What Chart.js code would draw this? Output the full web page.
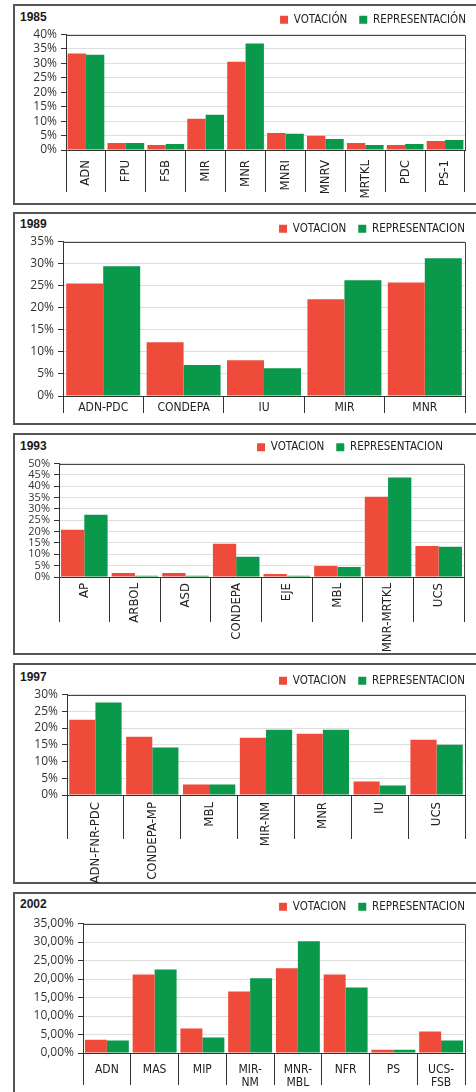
<!DOCTYPE html>
<html>
<head>
<meta charset="utf-8">
<script src="https://cdn.jsdelivr.net/npm/chart.js@4.4.1/dist/chart.umd.min.js"></script>
<style>
html, body { margin: 0; padding: 0; background: #fff; }
#page { position: relative; width: 476px; height: 1092px; overflow: hidden; }
.panel { position: absolute; left: 13px; width: 480px; border: 2px solid #555; box-sizing: border-box; }
.year { position: absolute; left: 20px; height: 14px; line-height: 14px; font: bold 12px "Liberation Sans", Arial, sans-serif; color: #1a1a1a; }
canvas { position: absolute; left: 0; }
</style>
</head>
<body>
<div id="page"></div>
<script>
// datos por eleccion (%)
const cats1985 = ['ADN', 'FPU', 'FSB', 'MIR', 'MNR', 'MNRI', 'MNRV', 'MRTKL', 'PDC', 'PS-1'];
const vot1985 = [33.4, 2.4, 1.7, 10.8, 30.6, 5.9, 4.9, 2.4, 1.7, 3.1];
const rep1985 = [33.0, 2.4, 2.1, 12.2, 36.9, 5.6, 3.8, 1.7, 2.1, 3.5];
const ticks1985 = [0, 5, 10, 15, 20, 25, 30, 35, 40];

const cats1989 = ['ADN-PDC', 'CONDEPA', 'IU', 'MIR', 'MNR'];
const vot1989 = [25.5, 12.2, 8.1, 21.9, 25.7];
const rep1989 = [29.4, 7.0, 6.3, 26.2, 31.2];
const ticks1989 = [0, 5, 10, 15, 20, 25, 30, 35];

const cats1993 = ['AP', 'ARBOL', 'ASD', 'CONDEPA', 'EJE', 'MBL', 'MNR-MRTKL', 'UCS'];
const vot1993 = [20.8, 1.8, 1.8, 14.6, 1.3, 4.9, 35.4, 13.7];
const rep1993 = [27.4, 0.6, 0.6, 8.9, 0.6, 4.4, 43.8, 13.3];
const ticks1993 = [0, 5, 10, 15, 20, 25, 30, 35, 40, 45, 50];

const cats1997 = ['ADN-FNR-PDC', 'CONDEPA-MP', 'MBL', 'MIR-NM', 'MNR', 'IU', 'UCS'];
const vot1997 = [22.5, 17.4, 3.1, 17.1, 18.3, 4.0, 16.5];
const rep1997 = [27.6, 14.2, 3.1, 19.5, 19.5, 2.8, 15.0];
const ticks1997 = [0, 5, 10, 15, 20, 25, 30];

const cats2002 = ['ADN', 'MAS', 'MIP', ['MIR-', 'NM'], ['MNR-', 'MBL'], 'NFR', 'PS', ['UCS-', 'FSB']];
const vot2002 = [3.6, 21.25, 6.6, 16.6, 22.9, 21.25, 0.9, 5.8];
const rep2002 = [3.35, 22.6, 4.2, 20.2, 30.2, 17.7, 0.9, 3.35];
const ticks2002 = [0, 5, 10, 15, 20, 25, 30, 35];

const RED = '#ee4b3b';
const GREEN = '#0a984a';
const NARROW = '"Liberation Sans Narrow", "DejaVu Sans Condensed", sans-serif';

// posiciones (en px del canvas de cada panel)
const panels = [
  { year: '1985', top: 5, h: 199, yearCy: 17, cats: cats1985, vot: vot1985, rep: rep1985, ticks: ticks1985, dec: 0,
    names: ['VOTACIÓN', 'REPRESENTACIÓN'], left: 66, right: 465, plotTop: 30, plotBottom: 145, sepEnd: 187,
    legendEnd: 466, legendCy: 15, rotate: true, labelOff: 10, tickSize: 12 },
  { year: '1989', top: 213, h: 211, yearCy: 224, cats: cats1989, vot: vot1989, rep: rep1989, ticks: ticks1989, dec: 0,
    names: ['VOTACION', 'REPRESENTACION'], left: 63, right: 465, plotTop: 29, plotBottom: 183, sepEnd: 200,
    legendEnd: 465, legendCy: 16, rotate: false, labelOff: 12.3, lh: 14.4, tickSize: 12 },
  { year: '1993', top: 434, h: 220, yearCy: 446, cats: cats1993, vot: vot1993, rep: rep1993, ticks: ticks1993, dec: 0,
    names: ['VOTACION', 'REPRESENTACION'], left: 59, right: 464, plotTop: 30, plotBottom: 143, sepEnd: 188,
    legendEnd: 443, legendCy: 13.5, rotate: true, labelOff: 6, tickSize: 11 },
  { year: '1997', top: 664, h: 219, yearCy: 677, cats: cats1997, vot: vot1997, rep: rep1997, ticks: ticks1997, dec: 0,
    names: ['VOTACION', 'REPRESENTACION'], left: 67, right: 465, plotTop: 31, plotBottom: 131, sepEnd: 175,
    legendEnd: 465, legendCy: 17, rotate: true, labelOff: 7, tickSize: 12 },
  { year: '2002', top: 893, h: 210, yearCy: 904, cats: cats2002, vot: vot2002, rep: rep2002, ticks: ticks2002, dec: 2,
    names: ['VOTACION', 'REPRESENTACION'], left: 83, right: 465, plotTop: 31, plotBottom: 160, sepEnd: 192,
    legendEnd: 465, legendCy: 14, rotate: false, labelOff: 17, lh: 13, tickSize: 12 }
];

// mueve la leyenda a su sitio sin tocar el area del grafico
const legendPlace = {
  id: 'legendPlace',
  afterLayout(chart, args, o) {
    const lg = chart.legend;
    const pad = lg.options.labels.padding;
    const hgt = lg.bottom - lg.top;
    lg.right = o.end + pad;
    lg.top = o.cy - pad - 6;
    lg.bottom = lg.top + hgt;
  }
};

// marco superior y derecho del area de trazado
const plotFrame = {
  id: 'plotFrame',
  afterDatasetsDraw(chart, args, o) {
    const { ctx, chartArea: a } = chart;
    ctx.save();
    ctx.strokeStyle = o.color;
    ctx.lineWidth = 1;
    ctx.beginPath();
    ctx.moveTo(a.left, Math.round(a.top) + 0.5);
    ctx.lineTo(Math.round(a.right) + 0.5, Math.round(a.top) + 0.5);
    ctx.lineTo(Math.round(a.right) + 0.5, a.bottom);
    ctx.stroke();
    ctx.restore();
  }
};

const page = document.getElementById('page');

function makePanel(p) {
  const box = document.createElement('div');
  box.className = 'panel';
  box.style.top = (p.top - 1) + 'px';
  box.style.height = (p.h + 2) + 'px';
  page.appendChild(box);

  const yr = document.createElement('div');
  yr.className = 'year';
  yr.style.top = (p.yearCy - 7) + 'px';
  yr.textContent = p.year;
  page.appendChild(yr);

  const cv = document.createElement('canvas');
  cv.width = 476;
  cv.height = p.h;
  cv.style.top = p.top + 'px';
  cv.style.width = '476px';
  cv.style.height = p.h + 'px';
  page.appendChild(cv);

  const tickLen = p.sepEnd - p.plotBottom;
  const lh = p.lh || 14.4;
  const xPad = p.rotate ? p.labelOff - tickLen : p.labelOff - lh / 2 - tickLen;

  new Chart(cv, {
    type: 'bar',
    data: {
      labels: p.cats,
      datasets: [
        { label: p.names[0], data: p.vot, backgroundColor: RED },
        { label: p.names[1], data: p.rep, backgroundColor: GREEN }
      ]
    },
    options: {
      responsive: false,
      animation: false,
      events: [],
      layout: { padding: { left: 0, right: 476 - p.right, top: p.plotTop - 34, bottom: 0 } },
      datasets: { bar: { categoryPercentage: 0.92, barPercentage: 1 } },
      plugins: {
        legend: {
          align: 'end',
          labels: { boxWidth: 8, boxHeight: 8, padding: 12, color: '#222', font: { family: NARROW, size: 11.5 } }
        },
        tooltip: { enabled: false },
        legendPlace: { end: p.legendEnd, cy: p.legendCy },
        plotFrame: { color: '#444' }
      },
      scales: {
        x: {
          offset: true,
          grid: { display: true, drawOnChartArea: false, drawTicks: true, tickLength: tickLen, offset: true, color: '#333', tickColor: '#333' },
          border: { display: true, color: '#333' },
          ticks: {
            autoSkip: false,
            minRotation: p.rotate ? 90 : 0,
            maxRotation: p.rotate ? 90 : 0,
            padding: xPad,
            color: '#222',
            font: { family: NARROW, size: p.rotate ? 13 : 12, lineHeight: lh + 'px' }
          },
          afterFit: s => { s.height = p.h - p.plotBottom; }
        },
        y: {
          min: 0,
          max: p.ticks[p.ticks.length - 1],
          afterBuildTicks: s => { s.ticks = p.ticks.map(v => ({ value: v })); },
          grid: { color: '#dedede', tickColor: '#333', tickLength: 5 },
          border: { display: true, color: '#333' },
          ticks: {
            autoSkip: false,
            padding: 4,
            color: '#333',
            font: { family: '"Open Sans", sans-serif', size: p.tickSize, lineHeight: 1 },
            callback: v => v.toFixed(p.dec).replace('.', ',') + '%'
          },
          afterFit: s => { s.width = p.left; }
        }
      }
    },
    plugins: [legendPlace, plotFrame]
  });
}

panels.forEach(makePanel);
</script>
</body>
</html>
